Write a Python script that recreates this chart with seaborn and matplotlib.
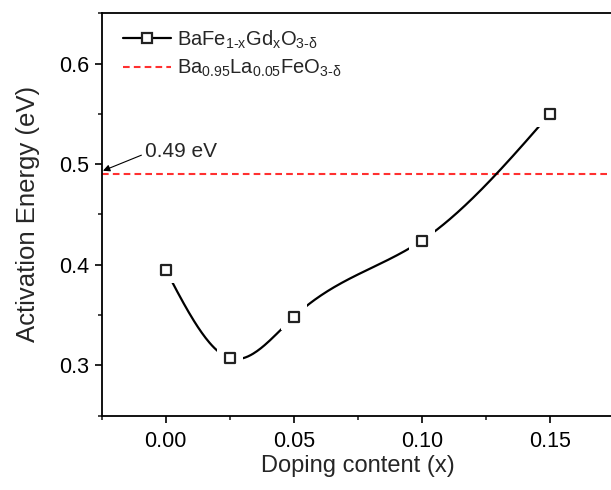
import numpy as np
import pandas as pd
import seaborn as sns
import matplotlib
matplotlib.use("Agg")
import matplotlib.pyplot as plt
from matplotlib.lines import Line2D

# ---- data ----
doping = [0.0, 0.025, 0.05, 0.10, 0.15]
energy = [0.395, 0.307, 0.348, 0.424, 0.550]
ref_energy = 0.49
series_label = r"BaFe$_{1\text{-}x}$Gd$_x$O$_{3\text{-}\delta}$"
ref_label = r"Ba$_{0.95}$La$_{0.05}$FeO$_{3\text{-}\delta}$"
xticks = [0.00, 0.05, 0.10, 0.15]
yticks = [0.3, 0.4, 0.5, 0.6]

sns.set_theme(style="ticks")
plt.rcParams['font.family'] = ['Liberation Sans', 'DejaVu Sans']
plt.rcParams['mathtext.fontset'] = 'custom'
plt.rcParams['mathtext.rm'] = 'Liberation Sans'
plt.rcParams['mathtext.it'] = 'Liberation Sans'
plt.rcParams['mathtext.default'] = 'regular'


def natural_spline(x, y, n=300):
    x = np.asarray(x, float); y = np.asarray(y, float)
    k = len(x) - 1
    h = np.diff(x)
    A = np.zeros((k + 1, k + 1)); b = np.zeros(k + 1)
    A[0, 0] = 1; A[k, k] = 1
    for i in range(1, k):
        A[i, i - 1] = h[i - 1]; A[i, i] = 2 * (h[i - 1] + h[i]); A[i, i + 1] = h[i]
        b[i] = 3 * ((y[i + 1] - y[i]) / h[i] - (y[i] - y[i - 1]) / h[i - 1])
    c = np.linalg.solve(A, b)
    xs = np.linspace(x[0], x[-1], n)
    ys = np.empty_like(xs)
    for j, xv in enumerate(xs):
        i = min(np.searchsorted(x, xv, side='right') - 1, k - 1)
        bb = (y[i + 1] - y[i]) / h[i] - h[i] * (c[i + 1] + 2 * c[i]) / 3
        d = (c[i + 1] - c[i]) / (3 * h[i])
        t = xv - x[i]
        ys[j] = y[i] + bb * t + c[i] * t ** 2 + d * t ** 3
    return xs, ys

fig = plt.figure(figsize=(6.11, 4.90), dpi=100)
ax = fig.add_axes([101.7 / 611, 1 - 415.5 / 490, 512.3 / 611, (415.5 - 13.3) / 490])

xs, ys = natural_spline(doping, energy)
sns.lineplot(x=xs, y=ys, ax=ax, color='black', lw=1.6, sort=False, zorder=3)
# white halo to create gap between line and marker
sns.scatterplot(x=doping, y=energy, ax=ax, marker='s', s=19 ** 2, color='white',
                edgecolor='none', linewidth=0, zorder=4)
sns.scatterplot(x=doping, y=energy, ax=ax, marker='s', s=7.6 ** 2, facecolor='white',
                edgecolor='#222222', linewidth=1.6, zorder=5)
ax.axhline(ref_energy, color='#ff3030', ls=(0, (3.2, 2.0)), lw=1.5, zorder=2)

ax.set_xlim(-0.025, 0.175)
ax.set_ylim(0.25, 0.65)
ax.set_xticks(xticks)
ax.set_xticklabels([f"{v:.2f}" for v in xticks])
ax.set_yticks(yticks)
ax.set_yticklabels([f"{v:.1f}" for v in yticks])
ax.set_xticks(np.arange(-0.025, 0.176, 0.025), minor=True)
ax.set_yticks(np.arange(0.25, 0.651, 0.05), minor=True)
ax.tick_params(which='major', direction='out', length=5, width=1.2, labelsize=15.5,
               colors='black', pad=4)
ax.tick_params(which='minor', direction='out', length=3, width=1.2)
ax.tick_params(axis='x', pad=6.5)
for s in ['left', 'bottom', 'top']:
    ax.spines[s].set_visible(True)
    ax.spines[s].set_linewidth(1.3)
    ax.spines[s].set_color('black')
ax.spines['right'].set_visible(False)

ax.set_xlabel("Doping content (x)", fontsize=17, labelpad=2)
ax.set_ylabel("Activation Energy (eV)", fontsize=18.5, labelpad=14)

ax.annotate("", xy=(-0.0245, 0.4934), xytext=(-0.0095, 0.5089),
            arrowprops=dict(arrowstyle='-|>', color='black', lw=0.8,
                            mutation_scale=10, shrinkA=0, shrinkB=0))
ax.text(-0.0082, 0.5129, "0.49 eV", fontsize=15, ha='left', va='center')

handles = [
    Line2D([0], [0], color='black', lw=1.6, marker='s', markersize=7.6,
           markerfacecolor='white', markeredgecolor='#222222', markeredgewidth=1.6),
    Line2D([0], [0], color='#ff3030', lw=1.5, ls=(0, (3.2, 2.0))),
]
ax.legend(handles, [series_label, ref_label], loc='upper left',
          bbox_to_anchor=(0.012, 1.0), frameon=False, fontsize=14.5,
          handlelength=2.4, handletextpad=0.3, labelspacing=0.35, borderaxespad=0.35)

fig.savefig("out.png", dpi=100, facecolor='white')
